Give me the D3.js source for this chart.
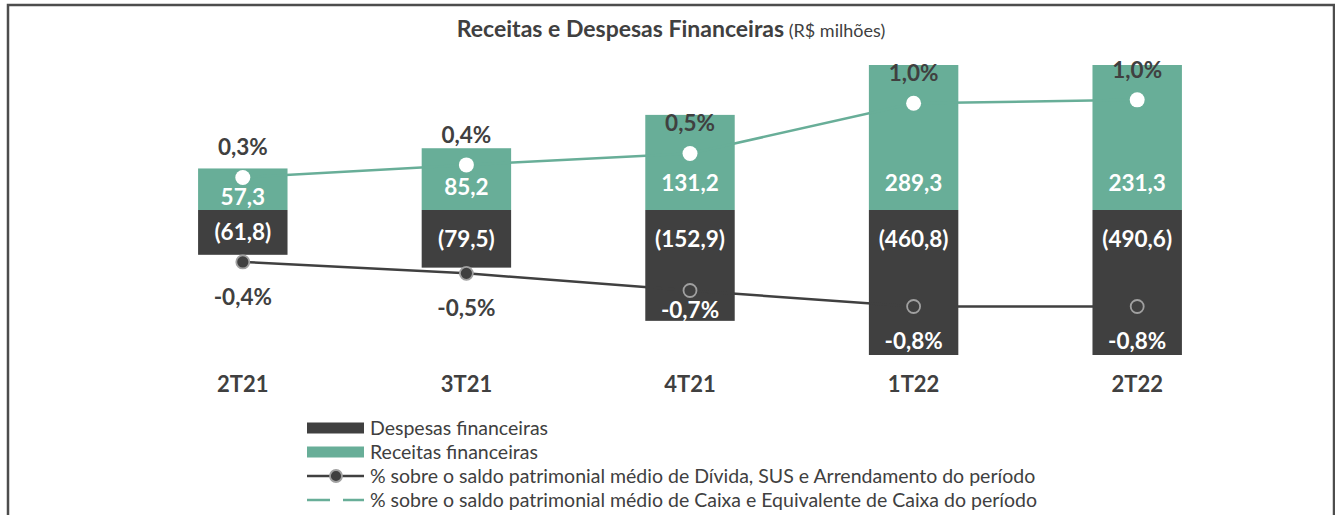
<!DOCTYPE html>
<html>
<head>
<meta charset="utf-8">
<script src="https://cdn.jsdelivr.net/npm/d3@7"></script>
<style>
  body { margin: 0; background: #fff; }
  text { font-family: Lato, "Noto Sans", sans-serif; }
</style>
</head>
<body>
<div id="plot"></div>
<script>
// data

  var trimestres = ["2T21", "3T21", "4T21", "1T22", "2T22"];
  var receitas = [57.3, 85.2, 131.2, 289.3, 231.3];
  var despesas = [-61.8, -79.5, -152.9, -460.8, -490.6];
  var pctDivida = [-0.42, -0.52, -0.67, -0.81, -0.81];
  var pctCaixa = [0.32, 0.43, 0.53, 0.97, 1.00];
  var legendaNomes = [
    "Despesas financeiras",
    "Receitas financeiras",
    "% sobre o saldo patrimonial médio de Dívida, SUS e Arrendamento do período",
    "% sobre o saldo patrimonial médio de Caixa e Equivalente de Caixa do período"
  ];

  var w = 1335;
  var h = 515;
  var escuro = "#404040";
  var verde = "#68ae98";
  var rotulo = "22.5px";

  var br = d3.formatLocale({decimal: ",", thousands: ".", grouping: [3], currency: ["R$", ""], minus: "-"});
  var fmtValor = br.format(".1f");
  var fmtPct = d => br.format(".1f")(d) + "%";

  var xScale = d3.scaleBand()
      .domain(trimestres)
      .range([131, 1249])
      .paddingInner(0.6)
      .paddingOuter(0.3);

  var yScale = d3.scaleLinear()
      .domain([-200, 200])
      .range([355, 65]);

  var ySec = d3.scaleLinear()
      .domain([-1.235, 1.305])
      .range([355, 65]);

  var svg = d3.select("div#plot")
    .append("svg")
      .attr("width", w)
      .attr("height", h);

  svg.append("rect")
      .attr("x", 0)
      .attr("y", 0)
      .attr("width", w)
      .attr("height", h)
      .attr("fill", "white");

// frame

  svg.append("rect")
      .attr("x", 8)
      .attr("y", 5)
      .attr("width", 1326)
      .attr("height", 530)
      .attr("fill", "none")
      .attr("stroke", "#4d4d4d")
      .attr("stroke-width", 2.5);

// title

  var title = svg.append("text")
      .attr("x", 671)
      .attr("y", 37)
      .attr("text-anchor", "middle")
      .attr("fill", escuro);
  title.append("tspan")
      .attr("font-weight", "bold")
      .attr("font-size", "23px")
      .text("Receitas e Despesas Financeiras");
  title.append("tspan")
      .attr("font-size", "18px")
      .text(" (R$ milhões)");

// bars

  svg.append("clipPath")
      .attr("id", "area")
    .append("rect")
      .attr("x", 0)
      .attr("y", yScale(200))
      .attr("width", w)
      .attr("height", yScale(-200) - yScale(200));

  var barras = svg.append("g").attr("clip-path", "url(#area)");

  barras.selectAll("rect.rec")
      .data(receitas)
    .enter().append("rect")
      .attr("class", "rec")
      .attr("x", (d, i) => xScale(trimestres[i]))
      .attr("y", d => yScale(d))
      .attr("width", xScale.bandwidth())
      .attr("height", d => yScale(0) - yScale(d))
      .attr("fill", verde);

  barras.selectAll("rect.desp")
      .data(despesas)
    .enter().append("rect")
      .attr("class", "desp")
      .attr("x", (d, i) => xScale(trimestres[i]))
      .attr("y", yScale(0))
      .attr("width", xScale.bandwidth())
      .attr("height", d => yScale(d) - yScale(0))
      .attr("fill", escuro);

  var cx = i => xScale(trimestres[i]) + xScale.bandwidth() / 2;
  var topo = d => Math.max(yScale(d), yScale.range()[1]);
  var fundo = d => Math.min(yScale(d), yScale.range()[0]);

// bar labels

  svg.selectAll("text.vrec")
      .data(receitas)
    .enter().append("text")
      .attr("class", "vrec")
      .attr("x", (d, i) => cx(i))
      .attr("y", d => {
        var alt = yScale(0) - topo(d);
        return yScale(0) - Math.min(27, alt / 2 - 8);
      })
      .attr("dy", "0.35em")
      .attr("text-anchor", "middle")
      .attr("font-weight", "bold")
      .attr("font-size", rotulo)
      .attr("fill", "white")
      .text(d => fmtValor(d));

  svg.selectAll("text.vdesp")
      .data(despesas)
    .enter().append("text")
      .attr("class", "vdesp")
      .attr("x", (d, i) => cx(i))
      .attr("y", d => Math.min((yScale(0) + fundo(d)) / 2, yScale(0) + 29))
      .attr("dy", "0.35em")
      .attr("text-anchor", "middle")
      .attr("font-weight", "bold")
      .attr("font-size", rotulo)
      .attr("fill", "white")
      .text(d => "(" + fmtValor(-d) + ")");

// lines

  var linha = d3.line()
      .x((d, i) => cx(i))
      .y(d => ySec(d));

  svg.append("path")
      .datum(pctCaixa)
      .attr("d", linha)
      .attr("fill", "none")
      .attr("stroke", verde)
      .attr("stroke-width", 2.5);

  svg.append("path")
      .datum(pctDivida)
      .attr("d", linha)
      .attr("fill", "none")
      .attr("stroke", escuro)
      .attr("stroke-width", 2.5);

  svg.selectAll("circle.caixa")
      .data(pctCaixa)
    .enter().append("circle")
      .attr("class", "caixa")
      .attr("cx", (d, i) => cx(i))
      .attr("cy", d => ySec(d))
      .attr("r", 7.5)
      .attr("fill", "white");

  svg.selectAll("circle.divida")
      .data(pctDivida)
    .enter().append("circle")
      .attr("class", "divida")
      .attr("cx", (d, i) => cx(i))
      .attr("cy", d => ySec(d))
      .attr("r", 6.5)
      .attr("fill", escuro)
      .attr("stroke", "#a0a0a0")
      .attr("stroke-width", 1.8);

// percentage labels

  svg.selectAll("text.pcaixa")
      .data(pctCaixa)
    .enter().append("text")
      .attr("class", "pcaixa")
      .attr("x", (d, i) => cx(i))
      .attr("y", d => ySec(d) - 30)
      .attr("dy", "0.35em")
      .attr("text-anchor", "middle")
      .attr("font-weight", "bold")
      .attr("font-size", rotulo)
      .attr("fill", escuro)
      .text(d => fmtPct(d));

  var posDivida = (d, i) => {
    var yy = ySec(d) + 35;
    var fim = fundo(despesas[i]);
    return (yy + 11 > fim && yy - 11 < fim) ? fim - 11 : yy;
  };

  svg.selectAll("text.pdivida")
      .data(pctDivida)
    .enter().append("text")
      .attr("class", "pdivida")
      .attr("x", (d, i) => cx(i))
      .attr("y", posDivida)
      .attr("dy", "0.35em")
      .attr("text-anchor", "middle")
      .attr("font-weight", "bold")
      .attr("font-size", rotulo)
      .attr("fill", (d, i) => posDivida(d, i) < fundo(despesas[i]) ? "white" : escuro)
      .text(d => fmtPct(d));

// category axis

  var xAxis = d3.axisBottom(xScale)
      .tickSize(0)
      .tickPadding(0);

  var eixo = svg.append("g")
      .attr("transform", "translate(0, 376)")
      .call(xAxis);
  eixo.select(".domain").remove();
  eixo.selectAll("text")
      .attr("font-family", "Lato, 'Noto Sans', sans-serif")
      .attr("font-weight", "bold")
      .attr("font-size", "22px")
      .attr("fill", escuro);

// legend

  var leg = svg.append("g")
      .attr("transform", "translate(307, 428)");

  var item = leg.selectAll("g")
      .data(legendaNomes)
    .enter().append("g")
      .attr("transform", (d, i) => `translate(0, ${i * 24})`);

  item.filter((d, i) => i < 2).append("rect")
      .attr("x", 0)
      .attr("y", -5.5)
      .attr("width", 57)
      .attr("height", 11)
      .attr("fill", (d, i) => i == 0 ? escuro : verde);

  item.filter((d, i) => i == 2).append("line")
      .attr("x1", 0).attr("x2", 57)
      .attr("stroke", escuro)
      .attr("stroke-width", 2.5);
  item.filter((d, i) => i == 2).append("circle")
      .attr("cx", 29)
      .attr("r", 6)
      .attr("fill", escuro)
      .attr("stroke", "#a0a0a0")
      .attr("stroke-width", 1.8);

  item.filter((d, i) => i == 3).append("line")
      .attr("x1", 0).attr("x2", 57)
      .attr("stroke", verde)
      .attr("stroke-width", 2.5)
      .attr("stroke-dasharray", "23 13");

  item.append("text")
      .attr("x", 63)
      .attr("dy", "0.35em")
      .attr("font-size", "19.5px")
      .attr("fill", escuro)
      .text(d => d);

</script>
</body>
</html>
